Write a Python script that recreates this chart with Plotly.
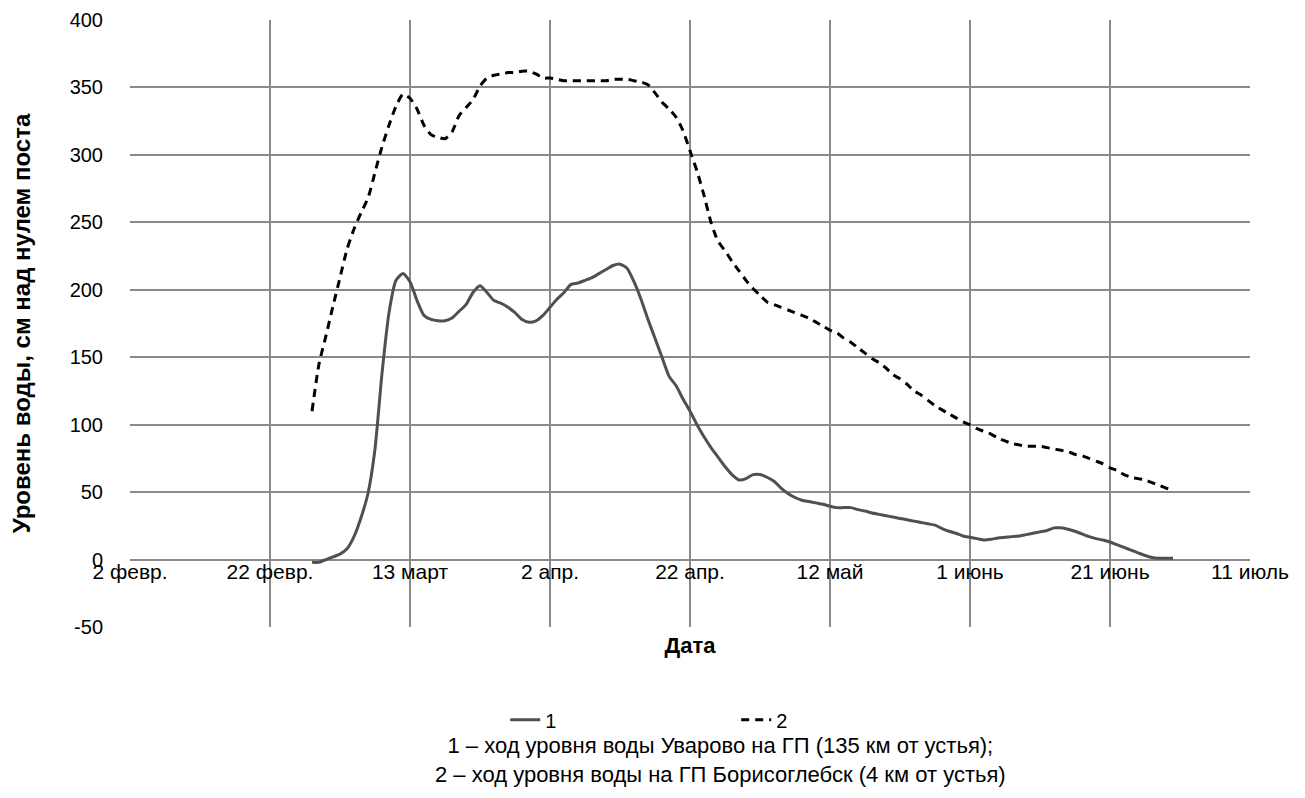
import pandas as pd
import plotly.graph_objects as go

# daily observations, 28 Feb 2016 – 30 Jun 2016
dates = pd.date_range("2016-02-28", "2016-06-30", freq="D")

level_1 = [
    -2, -2, 0, 2, 4, 8, 17, 31, 49, 82,
    138, 183, 207, 212, 206, 192, 181, 178, 177, 177,
    179, 184, 189, 198, 203, 198, 192, 190, 187, 183,
    178, 176, 177, 181, 187, 193, 198, 204, 205, 207,
    209, 212, 215, 218, 219, 216, 206, 193, 178, 164,
    150, 136, 129, 119, 110, 100, 91, 83, 76, 69,
    63, 59, 60, 63, 63, 61, 58, 53, 49, 46,
    44, 43, 42, 41, 39.5, 38.5, 38.5, 38.5, 37, 36,
    34.5, 33.5, 32.5, 31.5, 30.5, 29.5, 28.5, 27.5, 26.5, 25.5,
    23, 21, 19.5, 17.5, 16.5, 15.5, 14.5, 15, 16, 16.5,
    17, 17.5, 18.5, 19.5, 20.5, 21.5, 23.5, 23.5, 22.5, 21,
    19, 17, 15.5, 14.5, 13, 11, 9, 7, 5, 3,
    1.5, 1, 1, 1,
]

level_2 = [
    110, 145, 166, 188, 209, 230, 245, 257, 268, 287,
    306, 322, 336, 345, 342, 334, 322, 315, 313, 312,
    317, 329, 335, 341, 351, 357, 359, 360, 361, 361,
    362, 362, 360, 357, 357, 356, 355, 355, 355, 355,
    355, 355, 355, 356, 356, 356, 355, 354, 352, 346,
    339, 334, 328, 318, 303, 288, 270, 250, 236, 229,
    221, 214, 207, 201, 196, 191, 189, 187, 185, 183,
    181, 179, 176, 173, 170, 168, 164, 161, 157, 153,
    149, 146, 142, 137, 134, 130, 125, 122, 118, 114,
    111, 108, 105, 102, 100, 97, 95, 93, 90, 88,
    86, 85, 84, 84, 84, 83, 82, 81, 80, 78,
    77, 75, 73, 71, 68, 66, 63, 61, 60, 59,
    57, 55, 53, 51,
]

tick_dates = ["2016-02-02", "2016-02-22", "2016-03-13", "2016-04-02", "2016-04-22",
              "2016-05-12", "2016-06-01", "2016-06-21", "2016-07-11"]
tick_text = ["2 февр.", "22 февр.", "13 март", "2 апр.", "22 апр.",
             "12 май", "1 июнь", "21 июнь", "11 июль"]
y_ticks = [-50, 0, 50, 100, 150, 200, 250, 300, 350, 400]
y_tick_text = ["-50", "0", "50", "100", "150", "200", "250", "300", "350", "400"]

caption = ["1 – ход уровня воды Уварово на ГП (135 км от устья);",
           "2 – ход уровня воды на ГП Борисоглебск (4 км от устья)"]

FONT = "Liberation Sans, Arial, sans-serif"
GRID = "#8a8a8a"
Y_MIN, Y_MAX = -50, 400

fig = go.Figure()
fig.add_trace(go.Scatter(x=dates, y=level_1, name="1", mode="lines",
                         line=dict(color="#505050", width=3, shape="spline", smoothing=0.6)))
fig.add_trace(go.Scatter(x=dates, y=level_2, name="2", mode="lines",
                         line=dict(color="#000000", width=3, dash="8px,6px",
                                   shape="spline", smoothing=0.6)))

# invisible trace on the label axis so it renders
fig.add_trace(go.Scatter(x=[tick_dates[0]], y=[0], xaxis="x2", mode="markers",
                         marker=dict(opacity=0), showlegend=False, hoverinfo="skip"))

zero_pos = (0 - Y_MIN) / (Y_MAX - Y_MIN)

fig.update_layout(
    width=1305, height=798,
    margin=dict(l=122, r=63, t=12, b=179),
    paper_bgcolor="white", plot_bgcolor="white",
    font=dict(family=FONT, size=21, color="#000000"),
    showlegend=True,
    legend=dict(orientation="h", x=0.335, xanchor="left", y=-0.153, yanchor="middle",
                font=dict(size=20), entrywidth=186, entrywidthmode="pixels",
                bgcolor="rgba(0,0,0,0)"),
    xaxis=dict(type="date", range=[tick_dates[0], tick_dates[-1]], automargin=False,
               tickvals=tick_dates, ticktext=tick_text, showticklabels=False,
               showgrid=True, gridcolor=GRID, gridwidth=1.5, zeroline=False,
               showline=False, ticks="",
               title=dict(text="<b>Дата</b>", font=dict(size=22), standoff=10)),
    xaxis2=dict(type="date", range=[tick_dates[0], tick_dates[-1]], overlaying="x",
                anchor="free", position=zero_pos, side="bottom", automargin=False,
                tickvals=tick_dates, ticktext=tick_text, showgrid=False,
                zeroline=False, showline=False, ticks="", tickfont=dict(size=21),
                ticklabelstandoff=-3),
    yaxis=dict(range=[Y_MIN, Y_MAX], tickvals=y_ticks, ticktext=y_tick_text,
               automargin=False,
               showgrid=True, gridcolor=GRID, gridwidth=1.5, zeroline=False,
               showline=False, ticks="", ticklabelstandoff=26, tickfont=dict(size=20),
               title=dict(text="<b>Уровень воды, см над нулем поста</b>",
                          font=dict(size=24), standoff=43)),
)

fig.add_annotation(text="<br>".join(caption), xref="paper", yref="paper", x=0.527, y=-0.219,
                   xanchor="center", yanchor="middle", align="center", showarrow=False,
                   font=dict(size=22, family=FONT))

fig.write_html("out.html")
